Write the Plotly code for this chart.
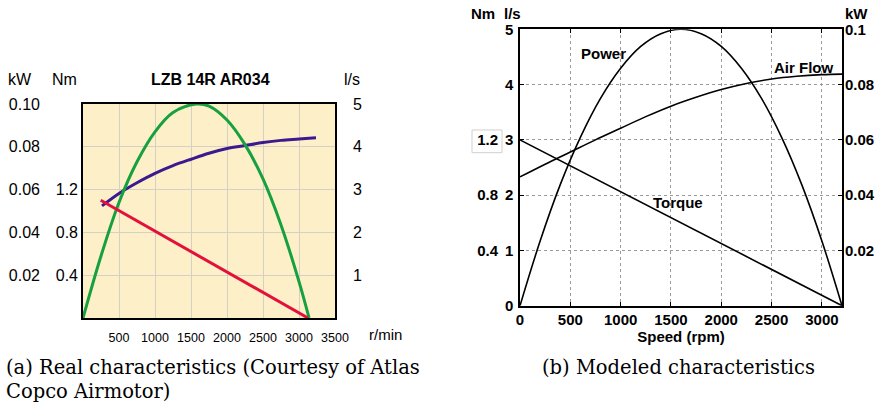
import plotly.graph_objects as go

W, H = 881, 406

# ---------------- data: (a) real characteristics ----------------
a_power_rpm = [0, 250, 500, 750, 1000, 1250, 1570, 1750, 2000, 2250, 2500, 2750, 3000, 3140]
a_power_kw = [0.0, 0.029, 0.054, 0.073, 0.087, 0.096, 0.100, 0.099, 0.0925, 0.081, 0.065, 0.0435, 0.017, 0.0]
a_flow_rpm = [264, 500, 750, 1000, 1250, 1500, 1750, 2000, 2250, 2500, 2750, 3000, 3236]
a_flow_ls = [2.62, 2.91, 3.16, 3.38, 3.56, 3.71, 3.85, 3.96, 4.03, 4.10, 4.15, 4.18, 4.21]
a_torque_rpm = [246, 3125]
a_torque_nm = [1.10, 0.0]

a_x_ticks = [500, 1000, 1500, 2000, 2500, 3000, 3500]
a_ls_ticks = [1, 2, 3, 4, 5]
a_kw_ticks = [0.02, 0.04, 0.06, 0.08, 0.10]
a_nm_ticks = [0.4, 0.8, 1.2]

# ---------------- data: (b) modeled characteristics ----------------
b_power_rpm = [0, 200, 400, 600, 800, 1000, 1200, 1400, 1600, 1800, 2000, 2200, 2400, 2600, 2800, 3000, 3200]
b_power_kw = [0.0, 0.0234, 0.0438, 0.0609, 0.075, 0.0859, 0.0938, 0.0984, 0.100,
              0.0984, 0.0938, 0.0859, 0.075, 0.0609, 0.0438, 0.0234, 0.0]
b_flow_rpm = [0, 250, 500, 750, 1000, 1250, 1500, 1750, 2000, 2250, 2500, 2750, 3000, 3200]
b_flow_ls = [2.33, 2.56, 2.78, 3.00, 3.21, 3.42, 3.61, 3.77, 3.91, 4.02, 4.10, 4.15, 4.18, 4.19]
b_torque_rpm = [0, 3200]
b_torque_nm = [1.2, 0.0]

b_x_ticks = [0, 500, 1000, 1500, 2000, 2500, 3000]
b_ls_ticks = [0, 1, 2, 3, 4, 5]
b_kw_ticks = [0.02, 0.04, 0.06, 0.08, 0.1]
b_kw_labels = ["0.02", "0.04", "0.06", "0.08", "0.1"]
b_nm_ticks = [0.4, 0.8, 1.2]


def px(x):
    return x / W


def py(y):
    return 1 - y / H


SANS = "Liberation Sans, Arial, sans-serif"
SERIF = "DejaVu Serif, serif"
GREEN = "#17a03f"
PURPLE = "#3b1a8f"
RED = "#e3103c"
CREAM = "#fdf0c8"
GRID_A = "#d5d0c5"

fig = go.Figure()

# (a) traces
fig.add_trace(go.Scatter(x=a_power_rpm, y=a_power_kw, xaxis="x", yaxis="y2", mode="lines",
                         line=dict(color=GREEN, width=3, shape="spline"), showlegend=False))
fig.add_trace(go.Scatter(x=a_flow_rpm, y=a_flow_ls, xaxis="x", yaxis="y", mode="lines",
                         line=dict(color=PURPLE, width=3, shape="spline"), showlegend=False))
fig.add_trace(go.Scatter(x=a_torque_rpm, y=a_torque_nm, xaxis="x", yaxis="y3", mode="lines",
                         line=dict(color=RED, width=3), showlegend=False))

# (b) traces
fig.add_trace(go.Scatter(x=b_power_rpm, y=b_power_kw, xaxis="x2", yaxis="y6", mode="lines",
                         line=dict(color="black", width=1.6, shape="spline"), showlegend=False))
fig.add_trace(go.Scatter(x=b_flow_rpm, y=b_flow_ls, xaxis="x2", yaxis="y4", mode="lines",
                         line=dict(color="black", width=1.6, shape="spline"), showlegend=False))
fig.add_trace(go.Scatter(x=b_torque_rpm, y=b_torque_nm, xaxis="x2", yaxis="y5", mode="lines",
                         line=dict(color="black", width=1.6), showlegend=False))

A_XDOM = [px(83), px(335)]
A_YDOM = [py(318), py(104)]
B_XDOM = [px(520), px(842)]
B_YDOM = [py(305.7), py(29.3)]

fa = dict(family=SANS, size=16, color="black")
fb = dict(family=SANS, size=15, color="black", weight="bold")

fig.update_layout(
    width=W, height=H, autosize=False,
    margin=dict(l=0, r=0, t=0, b=0, autoexpand=False),
    paper_bgcolor="white", plot_bgcolor="rgba(0,0,0,0)",
    # ---- (a)
    xaxis=dict(domain=A_XDOM, anchor="y", range=[0, 3500], tickvals=a_x_ticks, automargin=False,
               tickfont=dict(family=SANS, size=12.5, color="black"), ticks="",
               showgrid=True, gridcolor=GRID_A, gridwidth=1, zeroline=False,
               showline=True, linecolor="black", linewidth=1.5, mirror=True,
               ticklabelstandoff=7),
    yaxis=dict(domain=A_YDOM, anchor="x", side="right", range=[0, 5], tickvals=a_ls_ticks,
               automargin=False,
               tickfont=fa, ticks="", showgrid=True, gridcolor=GRID_A, gridwidth=1,
               zeroline=False, showline=True, linecolor="black", linewidth=1.5, mirror=True,
               ticklabelstandoff=13),
    yaxis2=dict(overlaying="y", anchor="free", position=px(40), side="left", range=[0, 0.1],
                automargin=False,
                tickvals=a_kw_ticks, tickformat=".2f", tickfont=fa, ticks="",
                showgrid=False, zeroline=False, showline=False, ticklabelstandoff=0),
    yaxis3=dict(overlaying="y", anchor="x", side="left", range=[0, 2], tickvals=a_nm_ticks,
                automargin=False,
                tickformat=".1f", tickfont=fa, ticks="", showgrid=False, zeroline=False,
                showline=False, ticklabelstandoff=4),
    # ---- (b)
    xaxis2=dict(domain=B_XDOM, anchor="y4", range=[0, 3200], tickvals=b_x_ticks, automargin=False,
                tickfont=fb, ticks="inside", ticklen=4, tickcolor="black",
                showgrid=True, gridcolor="#9a9a9a", griddash="dot", gridwidth=1, zeroline=False,
                showline=True, linecolor="black", linewidth=1.5, mirror="ticks",
                title=dict(text="Speed (rpm)", font=fb, standoff=0), ticklabelstandoff=0),
    yaxis4=dict(domain=B_YDOM, anchor="x2", side="left", range=[0, 5], tickvals=b_ls_ticks,
                automargin=False,
                tickfont=fb, ticks="inside", ticklen=4, tickcolor="black",
                showgrid=True, gridcolor="#9a9a9a", griddash="dot", gridwidth=1, zeroline=False,
                showline=True, linecolor="black", linewidth=1.5, mirror=True,
                ticklabelstandoff=2),
    yaxis5=dict(overlaying="y4", anchor="free", position=px(498), side="left", range=[0, 2],
                automargin=False,
                tickvals=b_nm_ticks, tickformat=".1f", tickfont=fb, ticks="",
                showgrid=False, zeroline=False, showline=False, ticklabelstandoff=0),
    yaxis6=dict(overlaying="y4", anchor="x2", side="right", range=[0, 0.1], tickvals=b_kw_ticks,
                automargin=False,
                ticktext=b_kw_labels, tickfont=fb, ticks="inside", ticklen=4, tickcolor="black",
                showgrid=False, zeroline=False, showline=False, ticklabelstandoff=2),
)

# cream background of (a)
fig.add_shape(type="rect", xref="x domain", yref="y domain", x0=0, x1=1, y0=0, y1=1,
              fillcolor=CREAM, line=dict(width=0), layer="below")
# box around the 1.2 label in (b)
fig.add_shape(type="rect", xref="paper", yref="paper", x0=px(472), x1=px(502),
              y0=py(152.7), y1=py(130), line=dict(color="#cfcfcf", width=1),
              fillcolor="rgba(0,0,0,0)")


def ann(text, x, y, font, xanchor="center"):
    fig.add_annotation(text=text, x=px(x), y=py(y), xref="paper", yref="paper",
                       xanchor=xanchor, yanchor="middle", showarrow=False, font=font)


# (a) headers
ann("kW", 20, 79, fa)
ann("Nm", 64, 79, fa)
ann("<b>LZB 14R AR034</b>", 210, 79, dict(family=SANS, size=16, color="black"))
ann("l/s", 352, 79, fa)
ann("r/min", 385, 334, dict(family=SANS, size=15, color="black"))

# (b) headers
ann("Nm", 483, 13, fb)
ann("l/s", 512, 13, fb)
ann("kW", 856, 13, fb)

# (b) curve labels
for t, x, y in [("Power", 825, 4.57), ("Air Flow", 2813, 4.30), ("Torque", 1570, 1.86)]:
    fig.add_annotation(text=t, x=x, y=y, xref="x2", yref="y4", showarrow=False, font=fb)

# captions
cap = dict(family=SERIF, size=19.5, color="black")
ann("(a) Real characteristics (Courtesy of Atlas", 4, 367, cap, xanchor="left")
ann("Copco Airmotor)", 4, 391, cap, xanchor="left")
ann("(b) Modeled characteristics", 678, 367, cap)

fig.write_html("out.html")
